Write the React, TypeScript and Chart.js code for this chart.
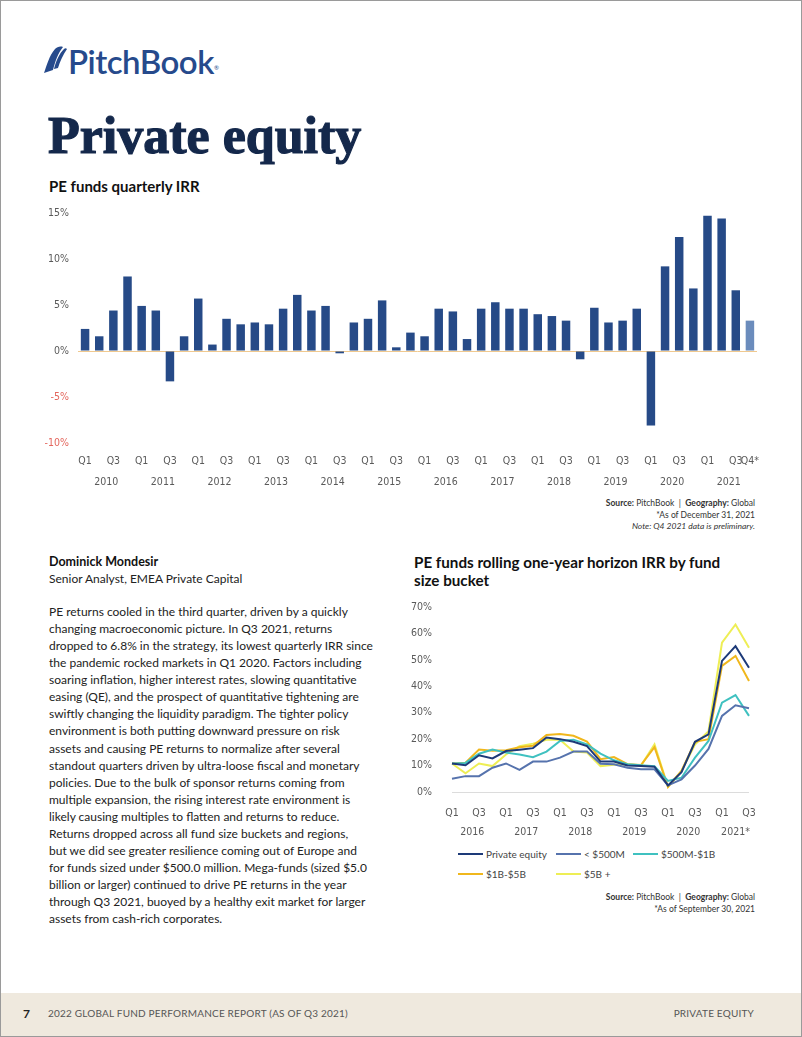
import React, { useEffect, useRef } from "react";
import { Chart, registerables } from "chart.js";

Chart.register(...registerables);

// ---------- Bar chart data ----------
const barYears = ["2010", "2011", "2012", "2013", "2014", "2015", "2016", "2017", "2018", "2019", "2020", "2021"];
const quarterNames = ["Q1", "Q2", "Q3", "Q4"];
const irrValues = [
  2.4, 1.6, 4.4, 8.1,
  4.9, 4.4, -3.3, 1.6,
  5.7, 0.7, 3.5, 2.9,
  3.1, 2.9, 4.6, 6.1,
  4.4, 4.9, -0.25, 3.1,
  3.5, 5.5, 0.4, 2.0,
  1.6, 4.6, 4.3, 1.3,
  4.6, 5.3, 4.6, 4.6,
  4.0, 3.8, 3.3, -0.9,
  4.7, 3.1, 3.3, 4.6,
  -8.1, 9.2, 12.4, 6.8,
  14.7, 14.4, 6.6, 3.3,
];
const barShownQuarters = ["Q1", "Q3"];
const lastBarTick = "Q4*";
const barYTicks = [-10, -5, 0, 5, 10, 15];

// ---------- Line chart data ----------
const lineYears = ["2016", "2017", "2018", "2019", "2020", "2021*"];
const linePointCount = 23;
const privateEquity = [10.8, 10.1, 13.9, 12.7, 15.5, 16.0, 16.6, 20.6, 20.0, 19.0, 17.4, 11.5, 11.5, 10.0, 9.8, 9.6, 2.5, 7.5, 19.0, 21.8, 49.6, 55.2, 47.0];
const under500M = [5.0, 6.0, 6.0, 9.2, 10.8, 8.4, 11.5, 11.5, 13.0, 15.3, 15.3, 10.7, 10.5, 9.2, 8.6, 8.6, 2.5, 4.8, 10.0, 16.3, 28.8, 32.8, 31.7];
const from500Mto1B = [10.8, 11.0, 14.5, 16.1, 14.9, 14.2, 13.2, 15.3, 19.3, 19.8, 18.0, 14.5, 12.0, 10.5, 10.1, 9.8, 4.2, 5.4, 13.0, 19.3, 33.8, 36.7, 28.8];
const from1Bto5B = [10.8, 11.1, 16.1, 15.6, 15.8, 16.9, 17.5, 21.6, 21.9, 21.3, 19.1, 12.4, 13.2, 10.5, 10.2, 17.0, 1.9, 8.0, 19.0, 20.0, 47.7, 51.5, 42.0];
const over5B = [10.8, 7.1, 10.8, 9.8, 14.2, 17.3, 18.3, 19.8, 19.8, 15.3, 14.9, 9.8, 10.3, 10.5, 10.0, 18.0, 2.0, 8.0, 18.0, 23.0, 56.5, 63.4, 54.6];
const seriesNames = ["Private equity", "< $500M", "$500M-$1B", "$1B-$5B", "$5B +"];
const seriesValues = [privateEquity, under500M, from500Mto1B, from1Bto5B, over5B];
const seriesColors = ["#1d3a78", "#5673ad", "#3fc1c0", "#f0b71c", "#eeee55"];

const bodyLines = [
  "PE returns cooled in the third quarter, driven by a quickly",
  "changing macroeconomic picture. In Q3 2021, returns",
  "dropped to 6.8% in the strategy, its lowest quarterly IRR since",
  "the pandemic rocked markets in Q1 2020. Factors including",
  "soaring inflation, higher interest rates, slowing quantitative",
  "easing (QE), and the prospect of quantitative tightening are",
  "swiftly changing the liquidity paradigm. The tighter policy",
  "environment is both putting downward pressure on risk",
  "assets and causing PE returns to normalize after several",
  "standout quarters driven by ultra-loose fiscal and monetary",
  "policies. Due to the bulk of sponsor returns coming from",
  "multiple expansion, the rising interest rate environment is",
  "likely causing multiples to flatten and returns to reduce.",
  "Returns dropped across all fund size buckets and regions,",
  "but we did see greater resilience coming out of Europe and",
  "for funds sized under $500.0 million. Mega-funds (sized $5.0",
  "billion or larger) continued to drive PE returns in the year",
  "through Q3 2021, buoyed by a healthy exit market for larger",
  "assets from cash-rich corporates.",
];

const barCategories = barYears.flatMap((y) => quarterNames.map((q) => `${q} ${y}`));
const lineCategories = lineYears.flatMap((y) => quarterNames.map((q) => `${q} ${y}`)).slice(0, linePointCount);

const TICK_FONT = '"Liberation Sans Narrow", "DejaVu Sans Condensed", "Arial Narrow", sans-serif';
const TICK_COLOR = "#5a5a5a";
const SANS = 'Lato, "Open Sans", sans-serif';

function yearLabelPlugin(years: string[], offsetY: number) {
  return {
    id: "yearLabels",
    afterDraw(chart: any) {
      const xs = chart.scales.x;
      const ctx = chart.ctx;
      const n = chart.data.labels.length;
      ctx.save();
      ctx.font = `10.5px ${TICK_FONT}`;
      ctx.fillStyle = TICK_COLOR;
      ctx.textAlign = "center";
      ctx.textBaseline = "middle";
      years.forEach((y, i) => {
        const idx: number[] = [];
        for (let k = i * 4; k < i * 4 + 4 && k < n; k++) idx.push(k);
        const cx = idx.reduce((s, k) => s + xs.getPixelForValue(k), 0) / idx.length;
        ctx.fillText(y, cx, chart.chartArea.bottom + offsetY);
      });
      ctx.restore();
    },
  };
}

function BarChart() {
  const ref = useRef<HTMLCanvasElement>(null);
  useEffect(() => {
    const chart = new Chart(ref.current!, {
      type: "bar",
      data: {
        labels: barCategories,
        datasets: [
          {
            data: irrValues,
            backgroundColor: irrValues.map((_, i) => (i === irrValues.length - 1 ? "#6b8cbc" : "#264a87")),
            barPercentage: 0.6,
            categoryPercentage: 1,
          },
        ],
      },
      options: {
        responsive: false,
        animation: false,
        layout: { padding: { top: 12, right: 9, left: 0, bottom: 0 } },
        plugins: { legend: { display: false }, tooltip: { enabled: false } },
        scales: {
          x: {
            grid: { display: false, drawTicks: false },
            border: { display: false },
            ticks: {
              autoSkip: false,
              maxRotation: 0,
              minRotation: 0,
              padding: 12,
              color: TICK_COLOR,
              font: { family: TICK_FONT, size: 10.5 },
              callback: (_v: any, i: number) => {
                if (i === irrValues.length - 1) return lastBarTick;
                const q = quarterNames[i % 4];
                return barShownQuarters.includes(q) ? q : "";
              },
            },
            afterFit: (s: any) => {
              s.height = 53;
              s.paddingLeft = 0;
              s.paddingRight = 0;
            },
          },
          y: {
            min: barYTicks[0],
            max: barYTicks[barYTicks.length - 1],
            ticks: {
              stepSize: 5,
              padding: 9,
              color: (c: any) => (c.tick && c.tick.value < 0 ? "#e4675e" : TICK_COLOR),
              font: { family: TICK_FONT, size: 10.5 },
              callback: (v: any) => `${v}%`,
            },
            grid: {
              drawTicks: false,
              color: (c: any) => (c.tick && c.tick.value === 0 ? "#f0c98f" : "rgba(0,0,0,0)"),
            },
            border: { display: false },
            afterFit: (s: any) => {
              s.width = 47;
              s.paddingTop = 0;
              s.paddingBottom = 0;
            },
          },
        },
      },
      plugins: [yearLabelPlugin(barYears, 39)],
    } as any);
    return () => chart.destroy();
  }, []);
  return <canvas ref={ref} width={735} height={295} style={{ position: "absolute", left: 30, top: 200 }} />;
}

function LineChart() {
  const ref = useRef<HTMLCanvasElement>(null);
  useEffect(() => {
    const chart = new Chart(ref.current!, {
      type: "line",
      data: {
        labels: lineCategories,
        datasets: seriesNames.map((name, i) => ({
          label: name,
          data: seriesValues[i],
          borderColor: seriesColors[i],
          backgroundColor: seriesColors[i],
          borderWidth: 2,
          pointRadius: 0,
          tension: 0,
          fill: false,
        })),
      },
      options: {
        responsive: false,
        animation: false,
        layout: { padding: { top: 11, right: 17, left: 0, bottom: 0 } },
        plugins: { legend: { display: false }, tooltip: { enabled: false } },
        scales: {
          x: {
            offset: false,
            grid: { display: false, drawTicks: false },
            border: { display: false },
            ticks: {
              autoSkip: false,
              maxRotation: 0,
              minRotation: 0,
              padding: 15,
              color: TICK_COLOR,
              font: { family: TICK_FONT, size: 10.5 },
              callback: (_v: any, i: number) => {
                const q = quarterNames[i % 4];
                return barShownQuarters.includes(q) ? q : "";
              },
            },
            afterFit: (s: any) => {
              s.height = 54;
              s.paddingLeft = 0;
              s.paddingRight = 0;
            },
          },
          y: {
            min: 0,
            max: 70,
            ticks: {
              stepSize: 10,
              padding: 20,
              color: TICK_COLOR,
              font: { family: TICK_FONT, size: 10.5 },
              callback: (v: any) => `${v}%`,
            },
            grid: {
              drawTicks: false,
              color: (c: any) => (c.tick && c.tick.value === 0 ? "#dcdcdc" : "rgba(0,0,0,0)"),
            },
            border: { display: false },
            afterFit: (s: any) => {
              s.width = 51;
              s.paddingTop = 0;
              s.paddingBottom = 0;
            },
          },
        },
      },
      plugins: [yearLabelPlugin(lineYears, 40)],
    } as any);
    return () => chart.destroy();
  }, []);
  return <canvas ref={ref} width={365} height={250} style={{ position: "absolute", left: 400, top: 595 }} />;
}

const abs = (left: number, top: number, extra: any = {}) => ({ position: "absolute" as const, left, top, whiteSpace: "nowrap" as const, ...extra });

function Legend() {
  const cols = [457, 555, 632];
  const rows = [853, 873];
  const slots = [
    [0, 0], [1, 0], [2, 0], [0, 1], [1, 1],
  ];
  return (
    <>
      {seriesNames.map((name, i) => {
        const [c, r] = slots[i];
        return (
          <div key={name} style={abs(cols[c], rows[r] - 8, { height: 16, display: "flex", alignItems: "center" })}>
            <div style={{ width: 25, height: 2, background: seriesColors[i], marginRight: 3 }} />
            <span style={{ font: `10px ${SANS}`, color: "#444" }}>{name}</span>
          </div>
        );
      })}
    </>
  );
}

function Logo() {
  return (
    <>
      <svg style={abs(42, 45)} width={24} height={28} viewBox="0 0 24 28">
        <path d="M1 27 C4 19 6 10 12 3 C14 1 17 0 20 1 C15 7 12 16 10 24 Z" fill="#264a8c" />
        <path d="M11 23 C13 15 16 8 21 3 C22 2 23 2 24 3 C20 9 17 15 15 22 Z" fill="#264a8c" />
      </svg>
      <div style={abs(67, 40, { font: `600 33px ${SANS}`, color: "#264a8c", letterSpacing: "-0.5px" })}>PitchBook</div>
      <div style={abs(213, 63, { font: `6px ${SANS}`, color: "#264a8c" })}>®</div>
    </>
  );
}

export default function App() {
  return (
    <div
      style={{
        position: "fixed",
        left: 0,
        top: 0,
        width: 802,
        height: 1037,
        boxSizing: "border-box",
        border: "1px solid #9a9a9a",
        background: "#fff",
        overflow: "hidden",
        fontFamily: SANS,
      }}
    >
      <Logo />
      <div
        style={abs(47, 105, {
          font: 'bold 52px "Liberation Serif", "Times New Roman", serif',
          lineHeight: "60px",
          color: "#14284b",
          WebkitTextStroke: "1.2px #14284b",
        })}
      >
        Private equity
      </div>
      <div style={abs(48, 176, { font: `bold 15px ${SANS}`, color: "#111" })}>PE funds quarterly IRR</div>

      <BarChart />

      <div style={abs(0, 497, { width: 754, textAlign: "right", font: `8.5px ${SANS}`, lineHeight: "11.5px", color: "#333" })}>
        <div>
          <b>Source:</b> PitchBook &nbsp;|&nbsp; <b>Geography:</b> Global
        </div>
        <div>*As of December 31, 2021</div>
        <div style={{ fontStyle: "italic" }}>Note: Q4 2021 data is preliminary.</div>
      </div>

      <div style={abs(48, 553, { font: `bold 12.5px ${SANS}`, color: "#111" })}>Dominick Mondesir</div>
      <div style={abs(48, 570, { font: `12px ${SANS}`, color: "#222" })}>Senior Analyst, EMEA Private Capital</div>
      <div style={abs(48, 602, { font: `12px ${SANS}`, lineHeight: "17.07px", color: "#222" })}>
        {bodyLines.map((l, i) => (
          <div key={i}>{l}</div>
        ))}
      </div>

      <div style={abs(413, 552, { font: `bold 15.2px ${SANS}`, lineHeight: "18px", color: "#111" })}>
        <div>PE funds rolling one-year horizon IRR by fund</div>
        <div>size bucket</div>
      </div>

      <LineChart />
      <Legend />

      <div style={abs(0, 891, { width: 754, textAlign: "right", font: `8.5px ${SANS}`, lineHeight: "11.5px", color: "#333" })}>
        <div>
          <b>Source:</b> PitchBook &nbsp;|&nbsp; <b>Geography:</b> Global
        </div>
        <div>*As of September 30, 2021</div>
      </div>

      <div style={{ position: "absolute", left: 0, top: 992, width: 800, height: 44, background: "#efe9de" }}>
        <div style={abs(22, 13, { font: `bold 12px ${SANS}`, color: "#222" })}>7</div>
        <div style={abs(47, 14, { font: `10px ${SANS}`, color: "#555", letterSpacing: "0.2px" })}>
          2022 GLOBAL FUND PERFORMANCE REPORT (AS OF Q3 2021)
        </div>
        <div style={{ ...abs(0, 14, { font: `10px ${SANS}`, color: "#555", letterSpacing: "0.2px" }), left: "auto", right: 47 }}>
          PRIVATE EQUITY
        </div>
      </div>
    </div>
  );
}
